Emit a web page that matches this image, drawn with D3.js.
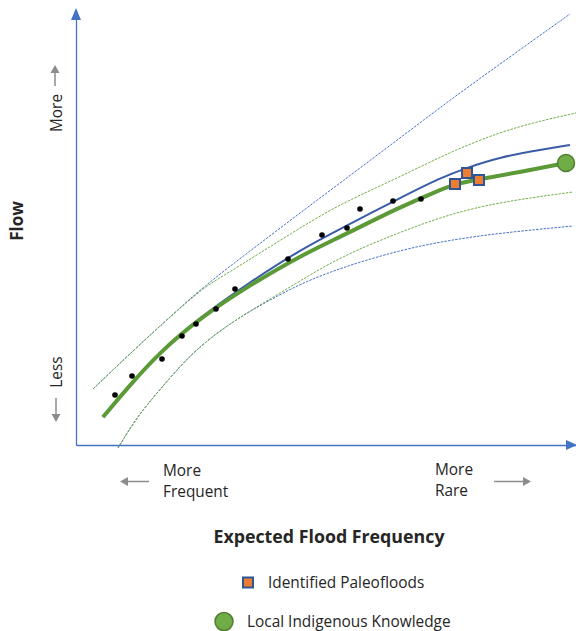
<!DOCTYPE html>
<html>
<head>
<meta charset="utf-8">
<script src="https://cdn.jsdelivr.net/npm/d3@7"></script>
<style>
  body { margin: 0; background: #fff; }
  text { font-family: "Open Sans", sans-serif; fill: #262626; }
</style>
</head>
<body>
<svg id="drawing_region"></svg>
<script>
// observed peaks (black dots)
const obsX = [39, 56, 86, 106, 120, 140, 159, 212, 246, 271, 284, 317, 345];
const obsY = [50, 69, 86, 109, 121, 136, 156, 186, 210, 217, 236, 244, 246];

// identified paleofloods (squares)
const paleoX = [379, 391, 403];
const paleoY = [261, 272, 265];

// local indigenous knowledge (big circle)
const likX = [490];
const likY = [282];

// frequency curve fitted without extra info (blue) + its bounds
const fitX      = [27, 54, 84, 124, 174, 224, 264, 324, 364, 390, 424, 464, 494];
const fitY      = [28, 60, 93, 128, 163, 195, 216, 247, 267, 277, 288, 295, 300];
const upBlueX   = [17, 61, 94, 127, 174, 224, 264, 324, 374, 424, 494];
const upBlueY   = [56, 98, 128, 158, 194, 232, 262, 307, 345, 381, 431];
const loBlueX   = [42, 61, 81, 111, 139, 169, 194, 224, 264, 324, 374, 424, 497];
const loBlueY   = [-3, 28, 52, 87, 111, 131, 145, 161, 177, 195, 205, 212, 219];

// frequency curve using paleofloods + knowledge (green) + its bounds
const fit2X     = [27, 54, 84, 124, 174, 224, 264, 324, 364, 379, 404, 444, 490];
const fit2Y     = [28, 60, 93, 127, 160, 189, 208, 238, 255, 261, 266, 273, 282];
const upGreenX  = [17, 61, 94, 127, 147, 184, 224, 264, 324, 374, 424, 464, 500];
const upGreenY  = [56, 98, 128, 157, 169, 192, 217, 241, 268, 293, 313, 324, 332];
const loGreenX  = [42, 61, 81, 111, 139, 169, 194, 224, 264, 324, 374, 424, 497];
const loGreenY  = [-3, 28, 52, 87, 111, 131, 146, 164, 188, 213, 231, 243, 253];

const legendLabels = ['Identified Paleofloods', 'Local Indigenous Knowledge'];

const width = 576, height = 631;
const axisBlue = '#4472c4';
const arrowGrey = '#8c8c8c';
const fs = '15.4px';

const svg = d3.select('#drawing_region')
    .attr('width', width)
    .attr('height', height);

const xscale = d3.scaleLinear().domain([0, 500]).range([76, 576]);
const yscale = d3.scaleLinear().domain([0, 435]).range([445, 10]);

// axes without ticks, just the lines
const xaxis = d3.axisBottom(xscale).tickValues([]).tickSizeOuter(0);
const yaxis = d3.axisLeft(yscale).tickValues([]).tickSizeOuter(0);

svg.append('g')
    .attr('transform', `translate(0, ${yscale(0)})`)
    .call(xaxis)
    .select('.domain')
    .attr('stroke', axisBlue)
    .attr('stroke-width', 1.3);

svg.append('g')
    .attr('transform', `translate(${xscale(0)}, 0)`)
    .call(yaxis)
    .select('.domain')
    .attr('stroke', axisBlue)
    .attr('stroke-width', 1.3);

// arrow heads on the axes
const x0 = xscale(0), y0 = yscale(0);
svg.append('path')
    .attr('d', `M${x0 - 5},20 L${x0 + 5},20 L${x0},8 Z`)
    .attr('fill', axisBlue);
svg.append('path')
    .attr('d', `M566,${y0 - 5} L566,${y0 + 5} L577,${y0} Z`)
    .attr('fill', axisBlue);

const line = d3.line()
    .x(d => xscale(d[0]))
    .y(d => yscale(d[1]))
    .curve(d3.curveBasis);

const curves = [
    { xs: upBlueX,  ys: upBlueY,  color: '#4472c4', w: 1, dash: '2.5,1.2' },
    { xs: loBlueX,  ys: loBlueY,  color: '#4472c4', w: 1, dash: '2.5,1.2' },
    { xs: upGreenX, ys: upGreenY, color: '#70ad47', w: 1, dash: '2.5,1.2' },
    { xs: loGreenX, ys: loGreenY, color: '#70ad47', w: 1, dash: '2.5,1.2' },
    { xs: fitX,     ys: fitY,     color: '#3a5ca6', w: 2, dash: null },
    { xs: fit2X,    ys: fit2Y,    color: '#5b9a37', w: 4, dash: null }
];

svg.append('g')
    .selectAll('path')
    .data(curves)
    .join('path')
    .attr('d', d => line(d3.zip(d.xs, d.ys)))
    .attr('fill', 'none')
    .attr('stroke', d => d.color)
    .attr('stroke-width', d => d.w)
    .attr('stroke-dasharray', d => d.dash);

// observed dots
svg.append('g')
    .selectAll('circle')
    .data(d3.zip(obsX, obsY))
    .join('circle')
    .attr('cx', d => xscale(d[0]))
    .attr('cy', d => yscale(d[1]))
    .attr('r', 2.8)
    .attr('fill', '#000');

// paleofloods
const sq = 10;
svg.append('g')
    .selectAll('rect')
    .data(d3.zip(paleoX, paleoY))
    .join('rect')
    .attr('x', d => xscale(d[0]) - sq / 2)
    .attr('y', d => yscale(d[1]) - sq / 2)
    .attr('width', sq)
    .attr('height', sq)
    .attr('fill', '#ed7d31')
    .attr('stroke', '#2f5597')
    .attr('stroke-width', 2);

// indigenous knowledge
svg.append('g')
    .selectAll('circle')
    .data(d3.zip(likX, likY))
    .join('circle')
    .attr('cx', d => xscale(d[0]))
    .attr('cy', d => yscale(d[1]))
    .attr('r', 8.5)
    .attr('fill', '#70ad47')
    .attr('stroke', '#507e32')
    .attr('stroke-width', 1.5);

// grey helper arrows
function arrow(xa, ya, xb, yb) {
    const ang = Math.atan2(yb - ya, xb - xa);
    const hl = 8, hw = 4.5;
    const bx = xb - hl * Math.cos(ang), by = yb - hl * Math.sin(ang);
    svg.append('line')
        .attr('x1', xa).attr('y1', ya)
        .attr('x2', bx).attr('y2', by)
        .attr('stroke', arrowGrey)
        .attr('stroke-width', 1.5);
    svg.append('path')
        .attr('d', `M${xb},${yb} L${bx - hw * Math.sin(ang)},${by + hw * Math.cos(ang)} L${bx + hw * Math.sin(ang)},${by - hw * Math.cos(ang)} Z`)
        .attr('fill', arrowGrey);
}
arrow(55, 86, 55, 65);
arrow(56, 398, 56, 422);
arrow(149, 481.5, 120, 481.5);
arrow(494, 481.5, 531, 481.5);

// y labels
svg.append('text')
    .attr('transform', 'translate(62, 113) rotate(-90)')
    .attr('text-anchor', 'middle')
    .style('font-size', fs)
    .text('More');
svg.append('text')
    .attr('transform', 'translate(62, 372) rotate(-90)')
    .attr('text-anchor', 'middle')
    .style('font-size', fs)
    .text('Less');
svg.append('text')
    .attr('transform', 'translate(23, 221) rotate(-90)')
    .attr('text-anchor', 'middle')
    .style('font-size', '17px')
    .style('font-weight', 'bold')
    .text('Flow');

// x labels
const xl = [
    { x: 163, y: 476, t: 'More' },
    { x: 163, y: 497, t: 'Frequent' },
    { x: 435, y: 475, t: 'More' },
    { x: 435, y: 496, t: 'Rare' }
];
svg.append('g')
    .selectAll('text')
    .data(xl)
    .join('text')
    .attr('x', d => d.x)
    .attr('y', d => d.y)
    .style('font-size', fs)
    .text(d => d.t);

svg.append('text')
    .attr('x', 329)
    .attr('y', 543)
    .attr('text-anchor', 'middle')
    .style('font-size', '17.8px')
    .style('font-weight', 'bold')
    .text('Expected Flood Frequency');

// legend
const legend = svg.append('g');
legend.append('rect')
    .attr('x', 243).attr('y', 577.5)
    .attr('width', 10).attr('height', 10)
    .attr('fill', '#ed7d31')
    .attr('stroke', '#2f5597')
    .attr('stroke-width', 2);
legend.append('text')
    .attr('x', 268).attr('y', 588)
    .style('font-size', fs)
    .text(legendLabels[0]);
legend.append('circle')
    .attr('cx', 224).attr('cy', 621.5)
    .attr('r', 9)
    .attr('fill', '#70ad47')
    .attr('stroke', '#507e32')
    .attr('stroke-width', 1.5);
legend.append('text')
    .attr('x', 247).attr('y', 627)
    .style('font-size', fs)
    .text(legendLabels[1]);
</script>
</body>
</html>
